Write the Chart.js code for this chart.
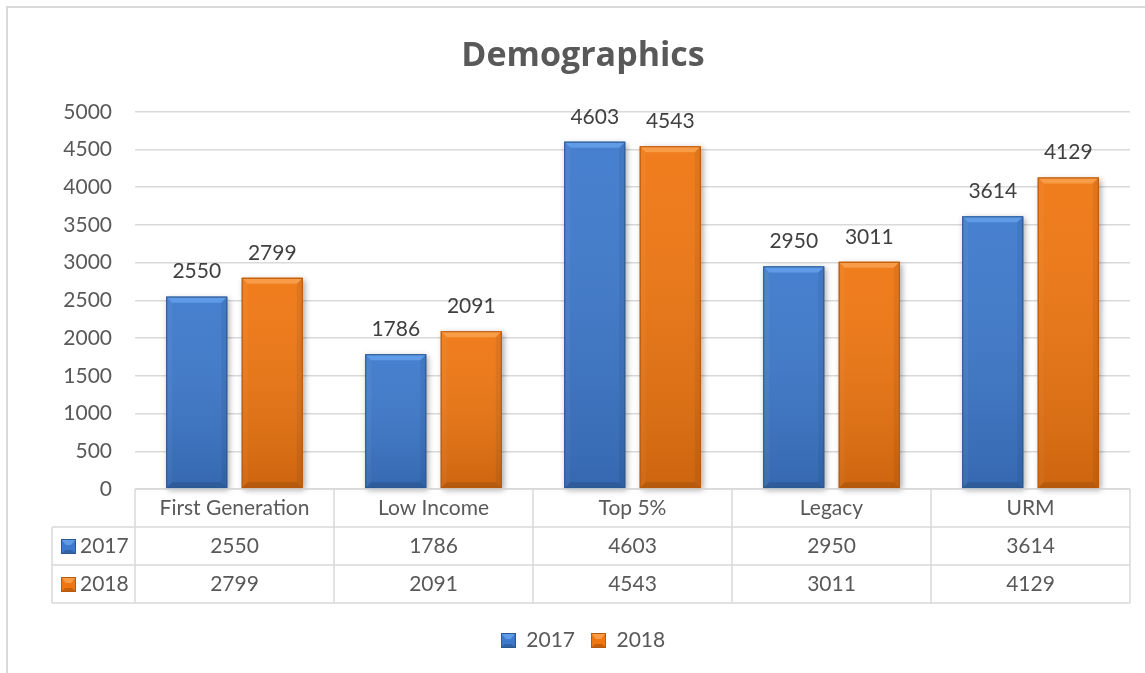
<!DOCTYPE html>
<html>
<head>
<meta charset="utf-8">
<script src="https://cdn.jsdelivr.net/npm/chart.js@4.4.1/dist/chart.umd.min.js"></script>
<style>
  html, body { margin: 0; padding: 0; background: #fff; }
  #wrap { position: relative; width: 1145px; height: 673px; overflow: hidden; }
  #frame { position: absolute; left: 6px; top: 6px; width: 1180px; height: 700px; border: 2px solid #d9d9d9; box-sizing: border-box; }
  #chart { position: absolute; left: 0; top: 0; }
</style>
</head>
<body>
<div id="wrap">
  <div id="frame"></div>
  <canvas id="chart" width="1145" height="673"></canvas>
</div>
<script>
const categories = ['First Generation', 'Low Income', 'Top 5%', 'Legacy', 'URM'];
const seriesNames = ['2017', '2018'];
const values2017 = [2550, 1786, 4603, 2950, 3614];
const values2018 = [2799, 2091, 4543, 3011, 4129];
const yMin = 0, yMax = 5000, yStep = 500;

const FONT = 'Lato, "Open Sans", sans-serif';
const TITLE_FONT = '"Open Sans", Lato, sans-serif';
const FONT_SIZE = 21;
const TEXT = '#595959';
const LINE = '#d9d9d9';

// kolory: środek, jaśniejszy skos, ciemna krawędź
const palettes = [
  { body: '#3d79cc', light: '#5f9be6', edge: '#2b5893' },
  { body: '#ef7611', light: '#f89c48', edge: '#b8590b' }
];

function makeKey(p) {
  const c = document.createElement('canvas');
  c.width = 15; c.height = 15;
  const g = c.getContext('2d');
  g.fillStyle = p.body; g.fillRect(0, 0, 15, 15);
  g.fillStyle = p.light;
  g.beginPath(); g.moveTo(0, 0); g.lineTo(15, 0); g.lineTo(10, 6); g.lineTo(5, 6); g.closePath(); g.fill();
  g.fillStyle = 'rgba(0,0,0,0.18)';
  g.beginPath(); g.moveTo(0, 15); g.lineTo(15, 15); g.lineTo(11, 11); g.lineTo(4, 11); g.closePath(); g.fill();
  g.strokeStyle = p.edge; g.lineWidth = 1; g.strokeRect(0.5, 0.5, 14, 14);
  return c;
}
const keyIcons = palettes.map(makeKey);

const shadowPlugin = {
  id: 'barShadow',
  beforeDatasetsDraw(chart) {
    const ctx = chart.ctx;
    ctx.save();
    ctx.shadowColor = 'rgba(0,0,0,0.35)';
    ctx.shadowBlur = 6;
    ctx.shadowOffsetX = 2;
    ctx.shadowOffsetY = 2;
    ctx.fillStyle = '#888';
    chart.data.datasets.forEach((ds, di) => {
      chart.getDatasetMeta(di).data.forEach(bar => {
        const { x, y, base, width } = bar.getProps(['x', 'y', 'base', 'width'], true);
        ctx.fillRect(x - width / 2, y, width, base - y);
      });
    });
    ctx.restore();
  }
};

const bevelPlugin = {
  id: 'bevel',
  afterDatasetsDraw(chart) {
    const ctx = chart.ctx;
    ctx.save();
    chart.data.datasets.forEach((ds, di) => {
      const p = palettes[di];
      chart.getDatasetMeta(di).data.forEach((bar, i) => {
        const { x, y, base, width } = bar.getProps(['x', 'y', 'base', 'width'], true);
        const l = x - width / 2, r = x + width / 2, t = y, b = base, s = 6;
        // lekki gradient w pionie
        const g = ctx.createLinearGradient(0, t, 0, b);
        g.addColorStop(0, 'rgba(255,255,255,0.05)');
        g.addColorStop(1, 'rgba(0,0,0,0.14)');
        ctx.fillStyle = g;
        ctx.fillRect(l, t, width, b - t);
        // skos u góry
        ctx.fillStyle = p.light;
        ctx.beginPath(); ctx.moveTo(l, t); ctx.lineTo(r, t); ctx.lineTo(r - s, t + s); ctx.lineTo(l + s, t + s); ctx.closePath(); ctx.fill();
        // boki i dół
        ctx.fillStyle = 'rgba(255,255,255,0.04)';
        ctx.beginPath(); ctx.moveTo(l, t); ctx.lineTo(l + s, t + s); ctx.lineTo(l + s, b - s); ctx.lineTo(l, b); ctx.closePath(); ctx.fill();
        ctx.fillStyle = 'rgba(0,0,0,0.06)';
        ctx.beginPath(); ctx.moveTo(r, t); ctx.lineTo(r - s, t + s); ctx.lineTo(r - s, b - s); ctx.lineTo(r, b); ctx.closePath(); ctx.fill();
        ctx.fillStyle = 'rgba(0,0,0,0.12)';
        ctx.beginPath(); ctx.moveTo(l, b); ctx.lineTo(r, b); ctx.lineTo(r - s, b - s); ctx.lineTo(l + s, b - s); ctx.closePath(); ctx.fill();
        ctx.strokeStyle = p.edge; ctx.lineWidth = 1;
        ctx.strokeRect(l + 0.5, t + 0.5, width - 1, b - t - 1);

        // etykieta z wartością
        ctx.fillStyle = '#404040';
        ctx.font = FONT_SIZE + 'px ' + FONT;
        ctx.textAlign = 'center';
        ctx.textBaseline = 'middle';
        ctx.fillText(String(ds.data[i]), x, t - 25);
      });
    });
    ctx.restore();
  }
};

const tablePlugin = {
  id: 'dataTable',
  afterDraw(chart) {
    const ctx = chart.ctx;
    const xs = chart.scales.x;
    const area = chart.chartArea;
    const colW = xs.width / categories.length;
    const rowH = 38;
    const top = area.bottom;
    const keyLeft = 52;
    const rows = [top, top + rowH, top + 2 * rowH, top + 3 * rowH];

    ctx.save();
    ctx.strokeStyle = LINE;
    ctx.lineWidth = 1.5;
    ctx.beginPath();
    ctx.moveTo(xs.left, rows[0]); ctx.lineTo(xs.right, rows[0]);
    for (let k = 1; k < 4; k++) { ctx.moveTo(keyLeft, rows[k]); ctx.lineTo(xs.right, rows[k]); }
    ctx.moveTo(keyLeft, rows[1]); ctx.lineTo(keyLeft, rows[3]);
    for (let c = 0; c <= categories.length; c++) {
      const xx = xs.left + c * colW;
      ctx.moveTo(xx, rows[0]); ctx.lineTo(xx, rows[3]);
    }
    ctx.stroke();

    ctx.fillStyle = TEXT;
    ctx.font = FONT_SIZE + 'px ' + FONT;
    ctx.textAlign = 'center';
    ctx.textBaseline = 'middle';
    categories.forEach((cat, i) => {
      const cx = xs.getPixelForValue(i);
      ctx.fillText(cat, cx, rows[0] + rowH / 2);
      chart.data.datasets.forEach((ds, di) => {
        ctx.fillText(String(ds.data[i]), cx, rows[di + 1] + rowH / 2);
      });
    });
    // klucze serii w pierwszej kolumnie
    ctx.textAlign = 'left';
    seriesNames.forEach((name, di) => {
      const cy = rows[di + 1] + rowH / 2;
      ctx.drawImage(keyIcons[di], keyLeft + 9, cy - 7);
      ctx.fillText(name, keyLeft + 28, cy);
    });
    ctx.restore();
  }
};

new Chart(document.getElementById('chart'), {
  type: 'bar',
  data: {
    labels: categories,
    datasets: [
      { label: seriesNames[0], data: values2017, backgroundColor: palettes[0].body, borderWidth: 0 },
      { label: seriesNames[1], data: values2018, backgroundColor: palettes[1].body, borderWidth: 0 }
    ]
  },
  options: {
    responsive: false,
    animation: false,
    events: [],
    layout: { padding: { left: 36, right: 15, top: 0, bottom: 12 } },
    datasets: { bar: { categoryPercentage: 0.759, barPercentage: 0.808 } },
    plugins: {
      title: {
        display: true,
        text: 'Demographics',
        color: TEXT,
        font: { family: TITLE_FONT, size: 34, weight: 'bold' },
        padding: { top: 36, bottom: 35 }
      },
      legend: {
        position: 'bottom',
        labels: {
          color: TEXT,
          font: { family: FONT, size: FONT_SIZE },
          usePointStyle: true,
          boxWidth: 15,
          boxHeight: 15,
          padding: 16,
          generateLabels: () => seriesNames.map((name, i) => ({
            text: name,
            pointStyle: keyIcons[i],
            fillStyle: palettes[i].body,
            strokeStyle: palettes[i].edge,
            lineWidth: 0,
            fontColor: TEXT,
            datasetIndex: i
          }))
        }
      },
      tooltip: { enabled: false }
    },
    scales: {
      x: {
        grid: { display: false },
        border: { display: false },
        ticks: { display: false },
        afterFit: s => { s.height = 125; }
      },
      y: {
        min: yMin,
        max: yMax,
        ticks: {
          stepSize: yStep,
          color: TEXT,
          padding: 23,
          font: { family: FONT, size: FONT_SIZE },
          callback: v => String(v)
        },
        grid: { color: LINE, lineWidth: 1.5, drawTicks: false },
        border: { display: false },
        afterFit: s => { s.width = 99; }
      }
    }
  },
  plugins: [shadowPlugin, bevelPlugin, tablePlugin]
});
</script>
</body>
</html>
